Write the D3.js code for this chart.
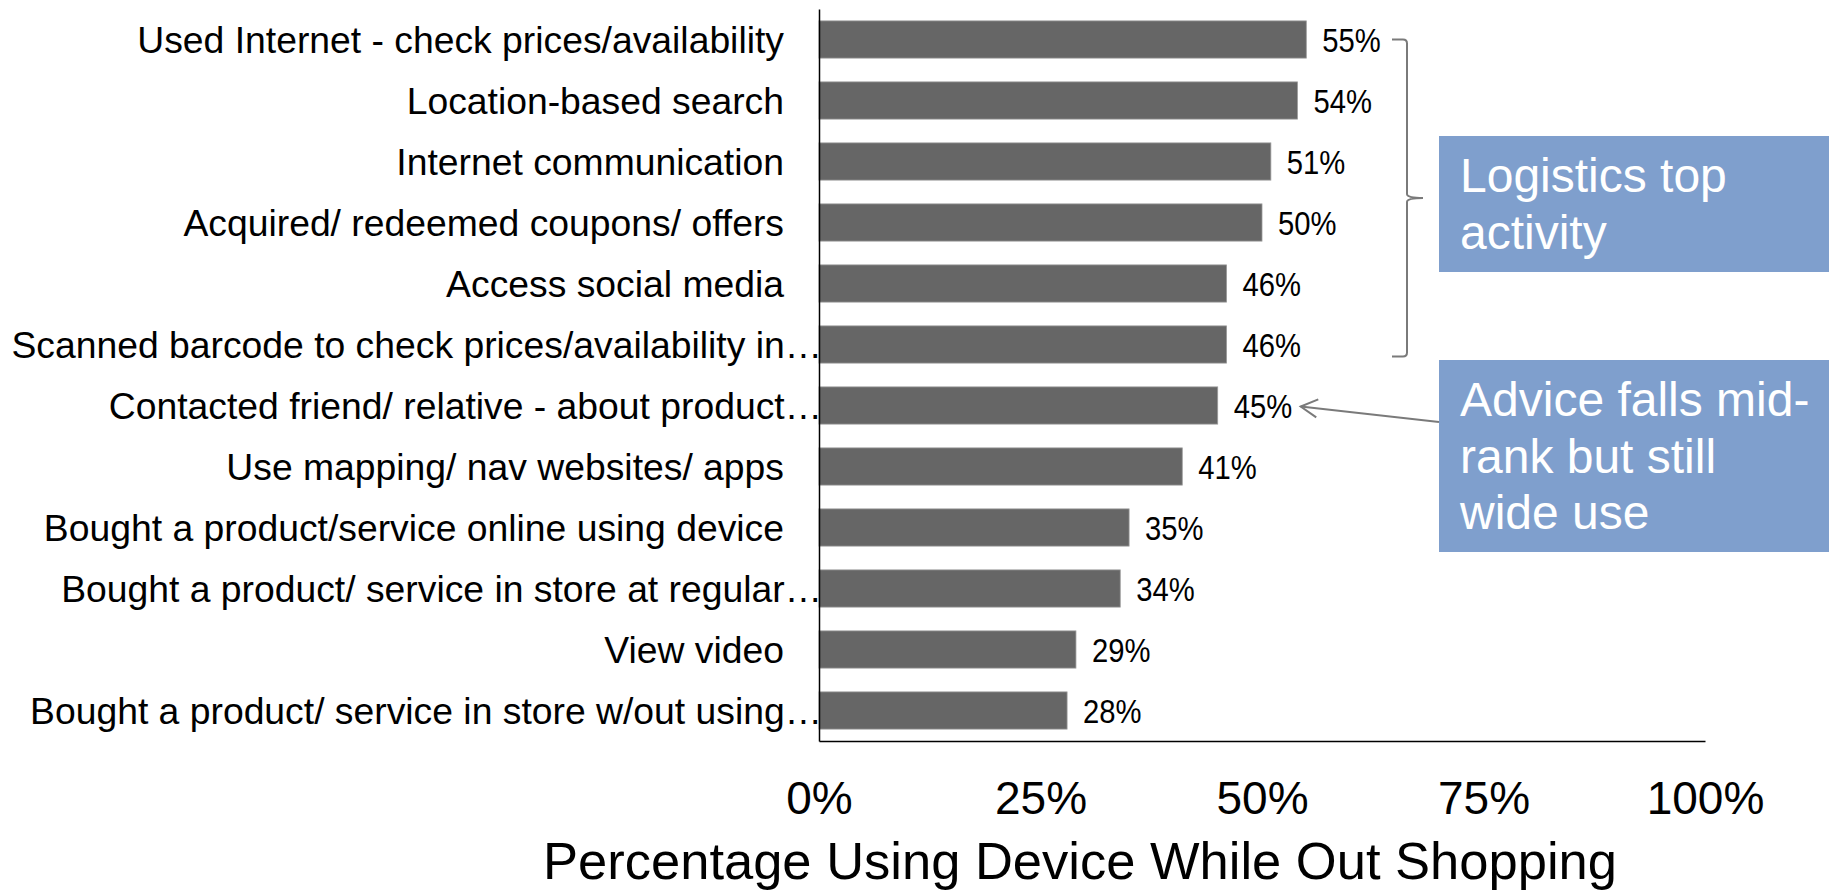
<!DOCTYPE html>
<html>
<head>
<meta charset="utf-8">
<script src="https://cdn.jsdelivr.net/npm/d3@7"></script>
<style>
  html, body { margin: 0; padding: 0; background: #ffffff; }
  svg { display: block; font-family: "Liberation Sans", Arial, Helvetica, sans-serif; }
</style>
</head>
<body>
<svg id="chart" width="1829" height="891"></svg>
<script>
// Activities, top to bottom
const categories = [
  "Used Internet - check prices/availability",
  "Location-based search",
  "Internet communication",
  "Acquired/ redeemed coupons/ offers",
  "Access social media",
  "Scanned barcode to check prices/availability in\u2026",
  "Contacted friend/ relative - about product\u2026",
  "Use mapping/ nav websites/ apps",
  "Bought a product/service online using device",
  "Bought a product/ service in store at regular\u2026",
  "View video",
  "Bought a product/ service in store w/out using\u2026"
];
// Share of shoppers using a device for each activity (%)
const values = [55, 54, 51, 50, 46, 46, 45, 41, 35, 34, 29, 28];
const tickValues = [0, 25, 50, 75, 100];
const axisTitle = "Percentage Using Device While Out Shopping";
const noteTop = ["Logistics top", "activity"];
const noteAdvice = ["Advice falls mid-", "rank but still", "wide use"];

const svg = d3.select("#chart");

const x = d3.scaleLinear().domain([0, 100]).range([819, 1705]);
const y = d3.scaleBand().domain(categories).range([9, 741])
  .paddingInner(0.39).paddingOuter(0.195);

const barColor = "#666666";
const noteFill = "#7f9fcd";
const noteLine = "#7a7a7a";

// Bars
svg.append("g").selectAll("rect")
  .data(values)
  .join("rect")
  .attr("x", x(0))
  .attr("y", (d, i) => y(categories[i]))
  .attr("width", d => x(d) - x(0))
  .attr("height", y.bandwidth())
  .attr("fill", barColor)
  .attr("stroke", "#9a9a9a")
  .attr("stroke-width", 0.8);

// Value labels (slightly condensed)
svg.append("g").selectAll("text")
  .data(values)
  .join("text")
  .attr("transform", (d, i) =>
    `translate(${x(d) + 16},${y(categories[i]) + y.bandwidth() / 2}) scale(0.86,1)`)
  .attr("dy", "0.38em")
  .attr("font-size", 34)
  .attr("fill", "#000")
  .text(d => d + "%");

// Category axis
const yAxis = svg.append("g")
  .attr("transform", `translate(${x(0)},0)`)
  .call(d3.axisLeft(y).tickSize(0).tickSizeOuter(0).tickPadding(35));
yAxis.select(".domain").attr("stroke", "#000").attr("stroke-width", 1.5);
yAxis.selectAll(".tick text")
  .attr("font-size", 37.3)
  .attr("font-family", "\"Liberation Sans\", Arial, sans-serif")
  .attr("fill", "#000")
  .attr("dy", "0.37em")
  .attr("x", d => d.endsWith("\u2026") ? 3 : -35);

// Value axis
const xAxis = svg.append("g")
  .attr("transform", `translate(0,${y.range()[1]})`)
  .call(d3.axisBottom(x).tickValues(tickValues).tickSize(0).tickSizeOuter(0)
    .tickPadding(40).tickFormat(d => d + "%"));
xAxis.select(".domain").attr("stroke", "#000").attr("stroke-width", 1.5);
xAxis.selectAll(".tick text")
  .attr("font-size", 46)
  .attr("font-family", "\"Liberation Sans\", Arial, sans-serif")
  .attr("fill", "#000");

// Axis title
svg.append("text")
  .attr("x", 1080)
  .attr("y", 879)
  .attr("text-anchor", "middle")
  .attr("font-size", 52.5)
  .attr("fill", "#000")
  .text(axisTitle);

// Bracket around the top six activities
const bTop = y(categories[0]) + y.bandwidth() / 2;
const bBot = y(categories[5]) + y.bandwidth() / 2 + 12;
const bMid = (bTop + bBot) / 2;
const bx0 = 1392, bx1 = 1407, bTip = 1423;
svg.append("path")
  .attr("d", [
    `M${bx0},${bTop}`,
    `H${bx1 - 4}`,
    `Q${bx1},${bTop} ${bx1},${bTop + 4}`,
    `V${bMid - 4}`,
    `Q${bx1},${bMid} ${bTip},${bMid}`,
    `Q${bx1},${bMid} ${bx1},${bMid + 4}`,
    `V${bBot - 4}`,
    `Q${bx1},${bBot} ${bx1 - 4},${bBot}`,
    `H${bx0}`
  ].join(" "))
  .attr("fill", "none")
  .attr("stroke", noteLine)
  .attr("stroke-width", 2);

// Callout boxes
function callout(lines, top, bottom) {
  const g = svg.append("g");
  g.append("rect")
    .attr("x", 1439).attr("y", top)
    .attr("width", 1829 - 1439).attr("height", bottom - top)
    .attr("fill", noteFill);
  g.selectAll("text").data(lines).join("text")
    .attr("x", 1460)
    .attr("y", (d, i) => top + 56 + i * 56.7)
    .attr("font-size", 48)
    .attr("fill", "#ffffff")
    .text(d => d);
}
callout(noteTop, 136, 272);
callout(noteAdvice, 360, 552);

// Arrow pointing at the advice bar's label
const adviceIdx = 6;
const tipX = x(values[adviceIdx]) + 83;
const tipY = y(categories[adviceIdx]) + y.bandwidth() / 2 + 1;
const startX = 1439, startY = 422;
const ang = Math.atan2(startY - tipY, startX - tipX);
const headLen = 19, headAng = 0.5;
svg.append("line")
  .attr("x1", startX).attr("y1", startY)
  .attr("x2", tipX).attr("y2", tipY)
  .attr("stroke", noteLine).attr("stroke-width", 2);
svg.append("path")
  .attr("d", `M${tipX + headLen * Math.cos(ang - headAng)},${tipY + headLen * Math.sin(ang - headAng)}` +
             ` L${tipX},${tipY}` +
             ` L${tipX + headLen * Math.cos(ang + headAng)},${tipY + headLen * Math.sin(ang + headAng)}`)
  .attr("fill", "none")
  .attr("stroke", noteLine)
  .attr("stroke-width", 2);
</script>
</body>
</html>
